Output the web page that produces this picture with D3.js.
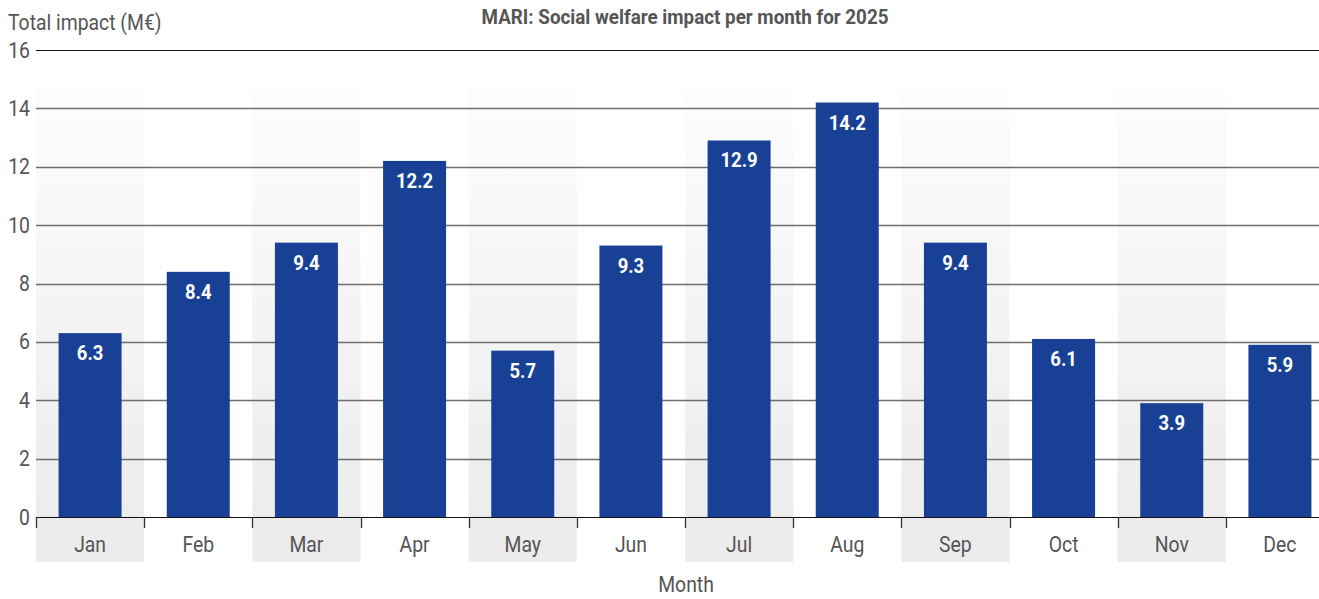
<!DOCTYPE html>
<html>
<head>
<meta charset="utf-8">
<script src="https://cdn.jsdelivr.net/npm/d3@7"></script>
<style>
  html, body { margin: 0; padding: 0; background: #fff; overflow: hidden; }
  svg { display: block; font-family: Roboto, "Noto Sans", sans-serif; }
</style>
</head>
<body>
<svg id="chart" width="1319" height="599"></svg>
<script>
// Monthly social welfare impact, million euros
const months = ["Jan", "Feb", "Mar", "Apr", "May", "Jun", "Jul", "Aug", "Sep", "Oct", "Nov", "Dec"];
const impact = [6.3, 8.4, 9.4, 12.2, 5.7, 9.3, 12.9, 14.2, 9.4, 6.1, 3.9, 5.9];
const yTicks = [0, 2, 4, 6, 8, 10, 12, 14, 16];

const svg = d3.select("#chart");
const plotLeft = 36, plotRight = 1334, plotTop = 50, plotBottom = 517;
const narrow = 0.88; // horizontal squeeze for a condensed look

const x = d3.scaleBand().domain(months).range([plotLeft, plotRight]).paddingInner(0).paddingOuter(0);
const y = d3.scaleLinear().domain([0, 16]).range([plotBottom, plotTop]);

const place = (px, py) => `translate(${px},${py}) scale(${narrow},1)`;

// vertical fade for alternating month bands
const defs = svg.append("defs");
const grad = defs.append("linearGradient").attr("id", "bandFade")
  .attr("x1", 0).attr("y1", 0).attr("x2", 0).attr("y2", 1);
grad.append("stop").attr("offset", "0%").attr("stop-color", "#fdfdfd");
grad.append("stop").attr("offset", "100%").attr("stop-color", "#ececec");

const bands = months.filter((d, i) => i % 2 === 0);
svg.append("g").selectAll("rect").data(bands).join("rect")
  .attr("x", d => x(d)).attr("width", x.bandwidth())
  .attr("y", 88).attr("height", plotBottom - 88)
  .attr("fill", "url(#bandFade)");
svg.append("g").selectAll("rect").data(bands).join("rect")
  .attr("x", d => x(d)).attr("width", x.bandwidth())
  .attr("y", plotBottom).attr("height", 45)
  .attr("fill", "#ececec");

// horizontal gridlines
svg.append("g").selectAll("line").data(yTicks.filter(d => d > 0)).join("line")
  .attr("x1", plotLeft).attr("x2", 1319)
  .attr("y1", d => Math.round(y(d)) + 0.5).attr("y2", d => Math.round(y(d)) + 0.5)
  .attr("stroke", d => d === 16 ? "#111" : "#6e6e6e")
  .attr("stroke-width", d => d === 16 ? 1 : 1.3);

// y tick labels
svg.append("g").selectAll("text").data(yTicks).join("text")
  .attr("transform", d => place(30, y(d) + 7.5))
  .attr("text-anchor", "end")
  .attr("font-size", 22).attr("fill", "#555")
  .text(d => d);

// bars
const barW = 63;
const barX = d => x(d) + (x.bandwidth() - barW) / 2;
svg.append("g").selectAll("rect").data(months).join("rect")
  .attr("x", barX).attr("width", barW)
  .attr("y", (d, i) => y(impact[i]))
  .attr("height", (d, i) => plotBottom - y(impact[i]))
  .attr("fill", "#184196");

// value labels inside bar tops
svg.append("g").selectAll("text").data(months).join("text")
  .attr("transform", (d, i) => place(x(d) + x.bandwidth() / 2, y(impact[i]) + 27))
  .attr("text-anchor", "middle")
  .attr("font-size", 21).attr("font-weight", "bold").attr("fill", "#fff")
  .text((d, i) => impact[i].toFixed(1));

// x axis baseline and ticks
const xAxis = svg.append("g");
xAxis.append("line").attr("x1", plotLeft).attr("x2", 1319)
  .attr("y1", plotBottom + 0.5).attr("y2", plotBottom + 0.5)
  .attr("stroke", "#111").attr("stroke-width", 1.2);
xAxis.selectAll("line.tick").data(months).join("line").attr("class", "tick")
  .attr("x1", d => Math.round(x(d)) + 0.5).attr("x2", d => Math.round(x(d)) + 0.5)
  .attr("y1", plotBottom).attr("y2", plotBottom + 11)
  .attr("stroke", "#333").attr("stroke-width", 1.3);
xAxis.selectAll("text").data(months).join("text")
  .attr("transform", d => place(x(d) + x.bandwidth() / 2, 552))
  .attr("text-anchor", "middle")
  .attr("font-size", 22).attr("fill", "#555")
  .text(d => d);

// axis titles and chart title
svg.append("text").attr("transform", place(8, 30))
  .attr("font-size", 22).attr("fill", "#555")
  .text("Total impact (M€)");
svg.append("text").attr("transform", place(686, 592))
  .attr("text-anchor", "middle")
  .attr("font-size", 22).attr("fill", "#555")
  .text("Month");
svg.append("text").attr("x", 685).attr("y", 24)
  .attr("text-anchor", "middle")
  .attr("font-size", 20).attr("font-weight", "bold").attr("fill", "#555")
  .attr("textLength", 407).attr("lengthAdjust", "spacingAndGlyphs")
  .text("MARI: Social welfare impact per month for 2025");
</script>
</body>
</html>
